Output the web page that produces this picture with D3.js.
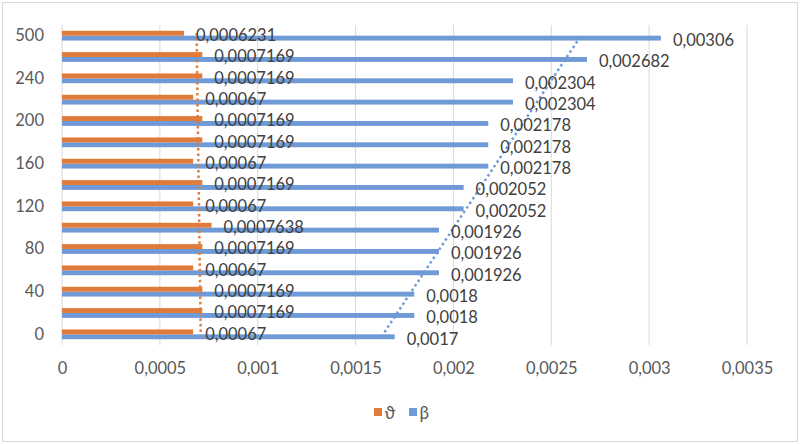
<!DOCTYPE html>
<html><head><meta charset="utf-8">
<script src="https://cdn.jsdelivr.net/npm/d3@7"></script>
<style>
html,body{margin:0;padding:0;background:#fff;}
svg text{font-family:Lato,"Open Sans",sans-serif;fill:#595959;}
</style></head>
<body>
<svg id="chart" width="800" height="444"></svg>
<script>
// Data (bottom to top)
const categories = ["0","20","40","60","80","100","120","140","160","180","200","220","240","300","500"];
const thetaValues = [0.00067,0.0007169,0.0007169,0.00067,0.0007169,0.0007638,0.00067,0.0007169,0.00067,0.0007169,0.0007169,0.00067,0.0007169,0.0007169,0.0006231];
const betaValues = [0.0017,0.0018,0.0018,0.001926,0.001926,0.001926,0.002052,0.002052,0.002178,0.002178,0.002178,0.002304,0.002304,0.002682,0.00306];
const xTicks = [0,0.0005,0.001,0.0015,0.002,0.0025,0.003,0.0035];
const seriesNames = ["ϑ","β"];
const colors = ["#E07B39","#6F9AD6"];

const svg = d3.select("#chart");
const fmt = v => String(v).replace(".", ",");

// border
svg.append("rect").attr("x",2.5).attr("y",2.5).attr("width",795).attr("height",439)
  .attr("fill","#fff").attr("stroke","#D9D9D9").attr("stroke-width",1);

const x = d3.scaleLinear().domain([0,0.0035]).range([62,747]);
const y = d3.scaleBand().domain(categories).range([345,25]);
const barH = 4.9;

// gridlines
svg.append("g").selectAll("line").data(xTicks).join("line")
  .attr("x1",d=>x(d)).attr("x2",d=>x(d)).attr("y1",25).attr("y2",345)
  .attr("stroke","#D9D9D9").attr("stroke-width",1);

// x axis labels
const xAxis = d3.axisBottom(x).tickValues(xTicks).tickSize(0).tickPadding(0).tickFormat(fmt);
const gx = svg.append("g").attr("transform","translate(0,362)").call(xAxis);
gx.select(".domain").remove();
gx.selectAll("text").attr("font-size",16.5).attr("font-family","Lato").attr("fill","#595959");

// y axis labels
const yAxis = d3.axisLeft(y).tickSize(0).tickPadding(0)
  .tickFormat((d,i)=> i%2===0 ? d : "");
const gy = svg.append("g").attr("transform","translate(44,0)").call(yAxis);
gy.select(".domain").remove();
gy.selectAll("text").attr("font-size",16.5).attr("font-family","Lato").attr("fill","#595959");

const data = categories.map((c,i)=>({c,i,theta:thetaValues[i],beta:betaValues[i]}));

// bars
const gb = svg.append("g");
gb.selectAll("rect.b").data(data).join("rect").attr("class","b")
  .attr("x",x(0)).attr("y",d=>y(d.c)+y.bandwidth()/2)
  .attr("width",d=>x(d.beta)-x(0)).attr("height",barH).attr("fill",colors[1]);
gb.selectAll("rect.t").data(data).join("rect").attr("class","t")
  .attr("x",x(0)).attr("y",d=>y(d.c)+y.bandwidth()/2-barH)
  .attr("width",d=>x(d.theta)-x(0)).attr("height",barH).attr("fill",colors[0]);

// linear trendlines (least squares over category index)
function trend(vals){
  const n=vals.length, mx=(n-1)/2, my=d3.mean(vals);
  let sxy=0,sxx=0;
  vals.forEach((v,i)=>{sxy+=(i-mx)*(v-my);sxx+=(i-mx)*(i-mx);});
  const b=sxy/sxx, a=my-b*mx;
  return [a, a+b*(n-1)];
}
[[thetaValues,0],[betaValues,1]].forEach(([vals,k])=>{
  const [v0,v1]=trend(vals);
  const off = k===0 ? -barH/2 : barH/2;
  svg.append("line")
    .attr("x1",x(v0)).attr("y1",y(categories[0])+y.bandwidth()/2+off)
    .attr("x2",x(v1)).attr("y2",y(categories[categories.length-1])+y.bandwidth()/2+off)
    .attr("stroke",colors[k]).attr("stroke-width",2.5).attr("stroke-dasharray","2.5 3");
});

// data labels
const gl = svg.append("g").attr("font-size",16.5);
gl.selectAll("text.t").data(data).join("text").attr("class","t")
  .attr("x",d=>x(d.theta)+12).attr("y",d=>y(d.c)+y.bandwidth()/2-barH/2+1.8)
  .attr("dominant-baseline","central").style("fill","#404040").text(d=>fmt(d.theta));
gl.selectAll("text.b").data(data).join("text").attr("class","b")
  .attr("x",d=>x(d.beta)+12).attr("y",d=>y(d.c)+y.bandwidth()/2+barH/2+1.8)
  .attr("dominant-baseline","central").style("fill","#404040").text(d=>fmt(d.beta));

// legend
const lg = svg.append("g").attr("transform","translate(374,408)");
seriesNames.forEach((s,i)=>{
  const gx0 = i*35;
  lg.append("rect").attr("x",gx0).attr("y",0).attr("width",8).attr("height",8).attr("fill",colors[i]);
  lg.append("text").attr("x",gx0+10.5).attr("y",4.5).attr("dominant-baseline","central")
    .attr("font-size",17).text(s);
});
</script>
</body></html>
